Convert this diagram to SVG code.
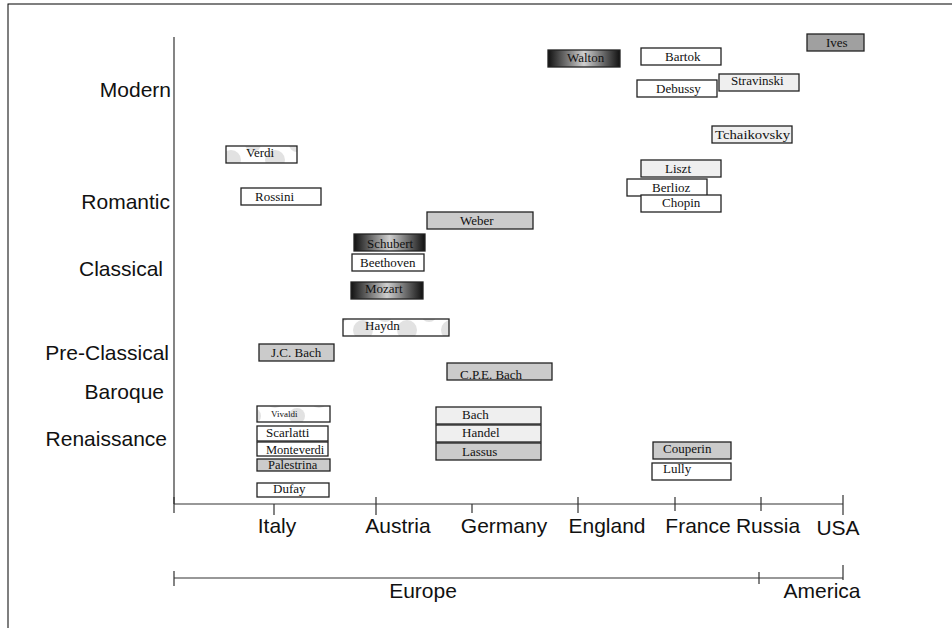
<svg xmlns="http://www.w3.org/2000/svg" width="952" height="628" viewBox="0 0 952 628">
<defs>
<linearGradient id="dark" x1="0" y1="0" x2="1" y2="0">
<stop offset="0" stop-color="#111"/>
<stop offset="0.5" stop-color="#cfcfcf"/>
<stop offset="1" stop-color="#111"/>
</linearGradient>
<pattern id="dots" width="44" height="34" patternUnits="userSpaceOnUse">
<rect width="44" height="34" fill="#fff"/>
<circle cx="11" cy="24" r="10" fill="#e2e2e2"/>
<circle cx="33" cy="8" r="8" fill="#e2e2e2"/>
</pattern>
<style>
.n rect{stroke:#222;stroke-width:1.3}
.n text{font-family:"Liberation Serif","Times New Roman",serif;font-size:13px;fill:#111}
.w{fill:#fff}.l{fill:#efefef}.g{fill:#cbcbcb}.d{fill:#a0a0a0}.gr{fill:url(#dark)}.p{fill:url(#dots)}
.lab{font-family:"Liberation Sans",Arial,sans-serif;font-size:21px;fill:#111}
.ax{stroke:#333;stroke-width:1.2;fill:none}
</style>
</defs>
<rect x="8" y="4" width="960" height="640" fill="#fff" stroke="#000" stroke-width="1"/>
<g id="axes">
<line class="ax" x1="174" y1="37" x2="174" y2="504"/>
<line class="ax" x1="174" y1="504" x2="843" y2="504"/>
<path class="ax" d="M174 497V513M274 504V515M376 497V515M472 504V513M578 497V513M675 497V511M761 497V511M843 495V515"/>
<line class="ax" x1="174" y1="578" x2="843" y2="578"/>
<path class="ax" d="M174 571V586M759 572V584M843 565V580"/>
</g>
<g id="labels" class="lab">
<text x="171" y="97" text-anchor="end">Modern</text>
<text x="170" y="209" text-anchor="end">Romantic</text>
<text x="163" y="276" text-anchor="end">Classical</text>
<text x="169" y="360" text-anchor="end">Pre-Classical</text>
<text x="164" y="399" text-anchor="end">Baroque</text>
<text x="167" y="446" text-anchor="end">Renaissance</text>
<text x="277" y="533" text-anchor="middle">Italy</text>
<text x="398" y="533" text-anchor="middle">Austria</text>
<text x="504" y="533" text-anchor="middle">Germany</text>
<text x="607" y="533" text-anchor="middle">England</text>
<text x="698" y="533" text-anchor="middle">France</text>
<text x="768" y="533" text-anchor="middle">Russia</text>
<text x="838" y="535" text-anchor="middle">USA</text>
<text x="423" y="598" text-anchor="middle">Europe</text>
<text x="822" y="598" text-anchor="middle">America</text>
</g>
<g id="walton" class="n"><rect class="gr" x="548" y="50" width="72" height="17"/><text x="567" y="62">Walton</text></g>
<g id="bartok" class="n"><rect class="w" x="641" y="48" width="80" height="17"/><text x="665" y="61">Bartok</text></g>
<g id="ives" class="n"><rect class="d" x="807" y="34" width="57" height="17"/><text x="826" y="47">Ives</text></g>
<g id="stravinski" class="n"><rect class="l" x="719" y="74" width="80" height="17"/><text x="731" y="85">Stravinski</text></g>
<g id="debussy" class="n"><rect class="w" x="637" y="80" width="80" height="17"/><text x="656" y="93">Debussy</text></g>
<g id="tchaikovsky" class="n"><rect class="l" x="712" y="126" width="80" height="17"/><text x="715" y="139" textLength="75" lengthAdjust="spacingAndGlyphs">Tchaikovsky</text></g>
<g id="liszt" class="n"><rect class="l" x="641" y="160" width="80" height="17"/><text x="665" y="173">Liszt</text></g>
<g id="berlioz" class="n"><rect class="w" x="627" y="179" width="80" height="17"/><text x="652" y="192">Berlioz</text></g>
<g id="chopin" class="n"><rect class="w" x="641" y="195" width="80" height="17"/><text x="662" y="207">Chopin</text></g>
<g id="verdi" class="n"><rect class="p" x="226" y="146" width="71" height="17"/><text x="246" y="157">Verdi</text></g>
<g id="rossini" class="n"><rect class="w" x="241" y="188" width="80" height="17"/><text x="255" y="201">Rossini</text></g>
<g id="weber" class="n"><rect class="g" x="427" y="212" width="106" height="17"/><text x="460" y="225">Weber</text></g>
<g id="schubert" class="n"><rect class="gr" x="354" y="234" width="71" height="17"/><text x="367" y="248">Schubert</text></g>
<g id="beethoven" class="n"><rect class="w" x="352" y="254" width="72" height="17"/><text x="360" y="267">Beethoven</text></g>
<g id="mozart" class="n"><rect class="gr" x="351" y="282" width="72" height="17"/><text x="365" y="293">Mozart</text></g>
<g id="haydn" class="n"><rect class="p" x="343" y="319" width="106" height="17"/><text x="365" y="330">Haydn</text></g>
<g id="jcbach" class="n"><rect class="g" x="259" y="344" width="75" height="17"/><text x="271" y="357">J.C. Bach</text></g>
<g id="cpebach" class="n"><rect class="g" x="447" y="363" width="105" height="17"/><text x="460" y="379">C.P.E. Bach</text></g>
<g id="vivaldi" class="n"><rect class="p" x="257" y="406" width="73" height="16"/><text x="271" y="417" style="font-size:9px">Vivaldi</text></g>
<g id="scarlatti" class="n"><rect class="w" x="257" y="426" width="71" height="15"/><text x="266" y="437">Scarlatti</text></g>
<g id="monteverdi" class="n"><rect class="w" x="257" y="442" width="71" height="14"/><text x="266" y="454" style="font-size:12.5px">Monteverdi</text></g>
<g id="palestrina" class="n"><rect class="g" x="257" y="459" width="73" height="12"/><text x="268" y="469" style="font-size:12.5px">Palestrina</text></g>
<g id="dufay" class="n"><rect class="w" x="257" y="483" width="72" height="14"/><text x="273" y="493">Dufay</text></g>
<g id="bach" class="n"><rect class="l" x="436" y="407" width="105" height="17"/><text x="462" y="419">Bach</text></g>
<g id="handel" class="n"><rect class="l" x="436" y="425" width="105" height="17"/><text x="462" y="437">Handel</text></g>
<g id="lassus" class="n"><rect class="g" x="436" y="443" width="105" height="17"/><text x="462" y="456">Lassus</text></g>
<g id="couperin" class="n"><rect class="g" x="653" y="442" width="78" height="17"/><text x="663" y="453">Couperin</text></g>
<g id="lully" class="n"><rect class="w" x="652" y="463" width="79" height="17"/><text x="663" y="473">Lully</text></g>
</svg>
